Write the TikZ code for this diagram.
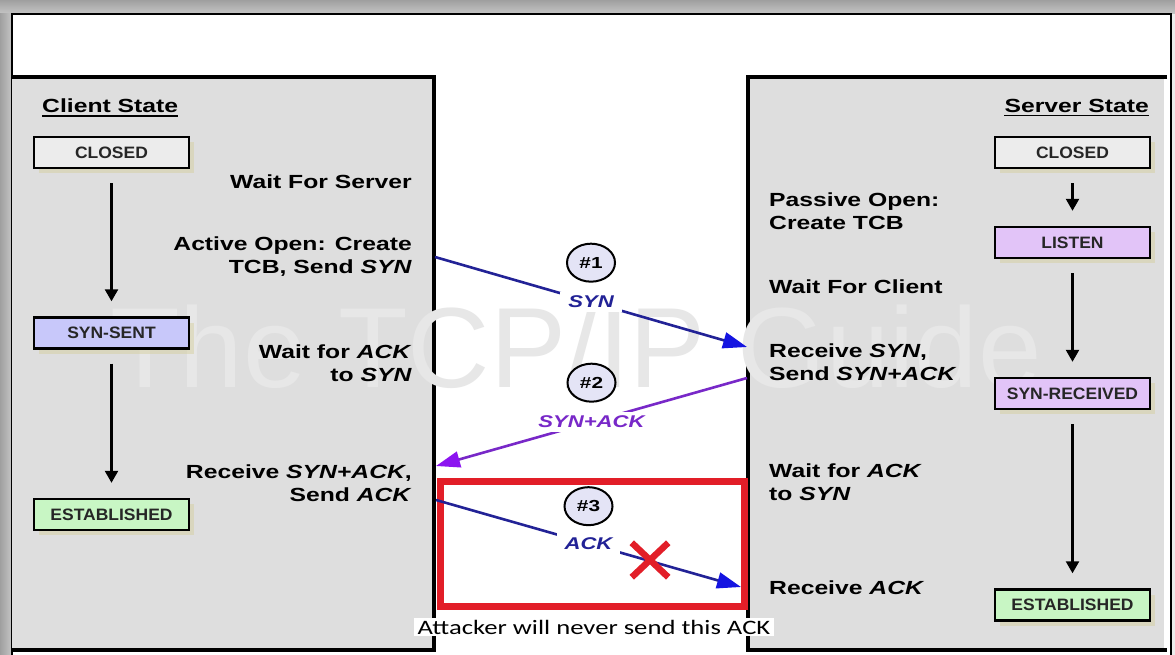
\documentclass[tikz,border=0pt]{standalone}
\usepackage{fontspec}
\setmainfont{Liberation Sans}[FakeStretch=1.3]
\newfontfamily\boxfont{Liberation Sans}[FakeStretch=1.06]
\newfontfamily\notefont{Carlito}[FakeStretch=1.3]
\newfontfamily\markfont{Liberation Sans}
\usetikzlibrary{positioning, arrows.meta, shapes.geometric, shapes.misc, shadows}

\definecolor{panelgrey}{RGB}{222,222,222}
\definecolor{closedfill}{RGB}{236,236,236}
\definecolor{sentfill}{RGB}{200,200,250}
\definecolor{listenfill}{RGB}{226,196,248}
\definecolor{estfill}{RGB}{200,246,196}
\definecolor{shadowtan}{RGB}{214,208,160}
\definecolor{synline}{RGB}{34,34,150}
\definecolor{synhead}{RGB}{20,20,225}
\definecolor{sackline}{RGB}{120,40,200}
\definecolor{sackhead}{RGB}{140,20,240}
\definecolor{seqfill}{RGB}{228,228,246}
\definecolor{crossred}{RGB}{226,30,40}
\definecolor{wmgrey}{RGB}{231,231,231}

\newcommand{\bodyfont}{\fontsize{19}{23}\selectfont\bfseries}

\begin{document}
\begin{tikzpicture}[x=1pt, y=-1pt,
    >={Triangle[length=12pt, width=13pt]},
    every node/.style={font=\bodyfont},
    statebox/.style={draw, line width=2.4pt, minimum width=155pt, minimum height=31pt, inner sep=0pt,
        font=\boxfont\fontsize{16.5}{18}\selectfont\bfseries, text=black!85,
        drop shadow={shadow xshift=5pt, shadow yshift=-5pt, fill=shadowtan, opacity=.5}},
    statearrow/.style={->, line width=2.4pt, shorten <=14pt, shorten >=15pt},
    ctext/.style={anchor=east, align=right, inner sep=0pt},
    stext/.style={anchor=west, align=left, inner sep=0pt},
    panelline/.style={line width=4pt},
    msglbl/.style={fill=white, inner xsep=8pt, inner ysep=4pt, font=\fontsize{17}{20}\selectfont\bfseries\itshape},
    seqnum/.style={ellipse, draw, line width=2pt, fill=seqfill, minimum width=48pt, minimum height=38pt, inner sep=0pt,
        font=\fontsize{16}{18}\selectfont\bfseries},
    synmsg/.style={line width=2.6pt, draw=synline, -{Triangle[length=24pt, width=16pt, color=synhead]}},
    sackmsg/.style={line width=2.6pt, draw=sackline, -{Triangle[length=24pt, width=16pt, color=sackhead]}},
    attackbox/.style={draw=crossred, line width=7pt},
]
\useasboundingbox (0,0) rectangle (1175,655);
\clip (0,0) rectangle (1175,655);

% Frame
\shade[top color=gray!75, bottom color=gray!45] (0,0) rectangle (1175,14);
\shade[left color=gray!75, right color=gray!45] (0,14) rectangle (12,655);
\fill[gray!15] (1171,14) rectangle (1175,655);
\fill[white] (12,14) rectangle (1171,655);
\draw[line width=2pt] (12,660) |- (1171,14) -- (1171,660);

% Panels
\fill[panelgrey] (12,77) rectangle (434,650);
\draw[panelline] (12,77) -| (434,650) -- (12,650);
\fill[panelgrey] (748,77) rectangle (1164,650);
\draw[panelline] (1167,77) -| (748,650) -- (1167,650);

\node (wmark) [anchor=base, font=\markfont\fontsize{114}{114}\selectfont, text=wmgrey, inner sep=0pt] at (576,387) {The TCP/IP Guide};

% Client side
\node (ctitle) [anchor=west, inner sep=0pt] at (42,106) {Client State};
\draw[line width=1.5pt] ([yshift=-3pt]ctitle.base west) -- ([yshift=-3pt]ctitle.base east);
\node (cclosed) [statebox, fill=closedfill] at (111.5,152.5) {CLOSED};
\node (csynsent) [statebox, fill=sentfill] at (111.5,333) {SYN-SENT};
\node (cest) [statebox, fill=estfill] at (111.5,514.5) {ESTABLISHED};
\draw[statearrow] (cclosed) -- (csynsent);
\draw[statearrow] (csynsent) -- (cest);

\node (cwait) [ctext] at (412,182) {Wait For Server};
\node (copen) [ctext] at (412,256.5) {Active Open: Create\\TCB, Send \textit{SYN}};
\node (cwaitack) [ctext] at (412,363) {Wait for \textit{ACK}\\to \textit{SYN}};
\node (crecv) [ctext] at (412,483.5) {Receive \textit{SYN+ACK},\\Send \textit{ACK}};

% Server side
\node (stitle) [anchor=east, inner sep=0pt] at (1149,106) {Server State};
\draw[line width=1.5pt] ([yshift=-3pt]stitle.base west) -- ([yshift=-3pt]stitle.base east);
\node (sclosed) [statebox, fill=closedfill] at (1072.5,152.5) {CLOSED};
\node (slisten) [statebox, fill=listenfill] at (1072.5,242.5) {LISTEN};
\node (ssynrcvd) [statebox, fill=listenfill] at (1072.5,393.5) {SYN-RECEIVED};
\node (sest) [statebox, fill=estfill] at (1072.5,605) {ESTABLISHED};
\draw[statearrow] (sclosed) -- (slisten);
\draw[statearrow] (slisten) -- (ssynrcvd);
\draw[statearrow] (ssynrcvd) -- (sest);

\node (spassive) [stext] at (769,211) {Passive Open:\\Create TCB};
\node (swait) [stext] at (769,287) {Wait For Client};
\node (srecv) [stext] at (769,362.5) {Receive \textit{SYN},\\Send \textit{SYN+ACK}};
\node (swaitack) [stext] at (769,482.5) {Wait for \textit{ACK}\\to \textit{SYN}};
\node (srecvack) [stext] at (769,588) {Receive \textit{ACK}};

% Highlight of the missing step
\draw[attackbox] (440,481.5) rectangle (744,606);
\node (note) [fill=white, inner xsep=4pt, inner ysep=2pt, font=\notefont\fontsize{20.5}{24}\selectfont] at (594,627) {Attacker will never send this ACK};

% Messages
\coordinate (synfrom) at (435,257);
\coordinate (synto) at (747,347);
\coordinate (sackfrom) at (747,378);
\coordinate (sackto) at (436,466);
\coordinate (ackfrom) at (436,500);
\coordinate (ackto) at (741,587);

\draw[synmsg] (synfrom) -- node[msglbl, text=synline] (synlbl) {SYN} (synto);
\node (n1) [seqnum, above=8pt of synlbl] {\#1};
\draw[sackmsg] (sackfrom) -- node[msglbl, text=sackline] (sacklbl) {SYN+ACK} (sackto);
\node (n2) [seqnum, above=8pt of sacklbl] {\#2};
\draw[synmsg] (ackfrom) -- node[msglbl, text=synline] (acklbl) {ACK} (ackto);
\node (n3) [seqnum, above=6pt of acklbl] {\#3};
\node (nosend) [cross out, draw=crossred, line width=6.5pt, minimum width=30pt, minimum height=28pt, inner sep=0pt] at (650,560) {};

\end{tikzpicture}
\end{document}
